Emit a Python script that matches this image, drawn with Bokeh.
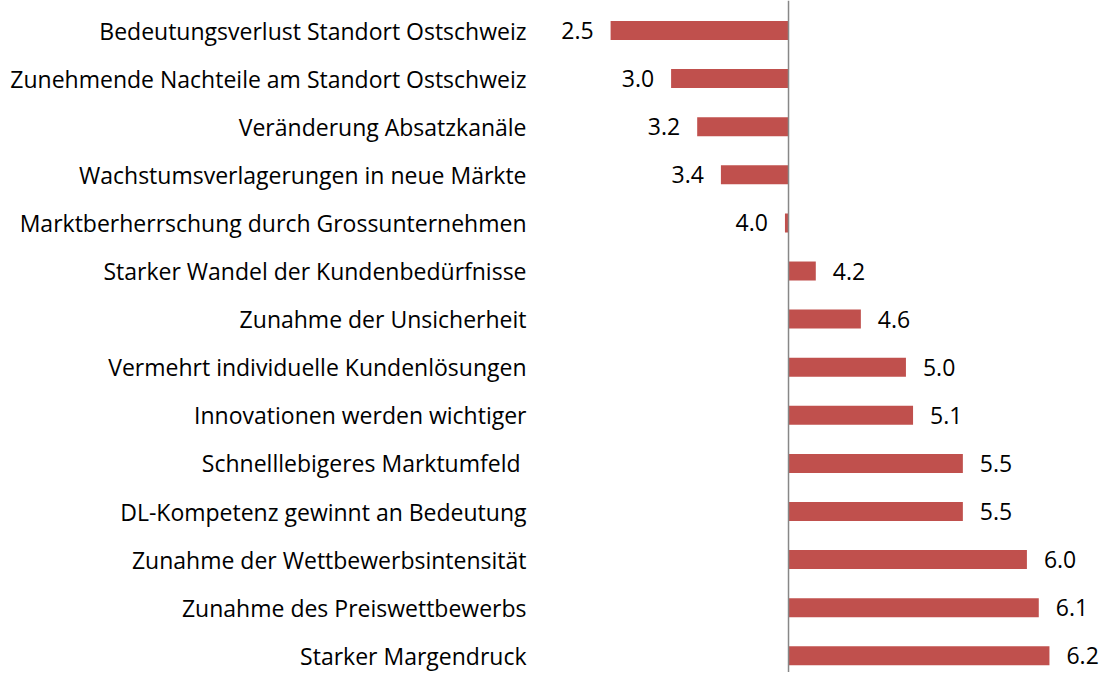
from bokeh.plotting import figure
from bokeh.models import ColumnDataSource, Range1d, Span
from bokeh.core.properties import value
from bokeh.embed import file_html
from bokeh.resources import INLINE

categories = [
    "Bedeutungsverlust Standort Ostschweiz",
    "Zunehmende Nachteile am Standort Ostschweiz",
    "Veränderung Absatzkanäle",
    "Wachstumsverlagerungen in neue Märkte",
    "Marktberherrschung durch Grossunternehmen",
    "Starker Wandel der Kundenbedürfnisse",
    "Zunahme der Unsicherheit",
    "Vermehrt individuelle Kundenlösungen",
    "Innovationen werden wichtiger",
    "Schnelllebigeres Marktumfeld ",
    "DL-Kompetenz gewinnt an Bedeutung",
    "Zunahme der Wettbewerbsintensität",
    "Zunahme des Preiswettbewerbs",
    "Starker Margendruck",
]
values = [2.50, 3.01, 3.23, 3.43, 3.97, 4.23, 4.61, 4.99, 5.05, 5.47, 5.47, 6.01, 6.11, 6.20]
labels = ["2.5", "3.0", "3.2", "3.4", "4.0", "4.2", "4.6", "5.0", "5.1", "5.5", "5.5", "6.0", "6.1", "6.2"]
baseline = 4.0

FONT = "Open Sans"
FS = "23px"

idx = list(range(len(categories)))
neg = [v < baseline for v in values]

src_bar = ColumnDataSource(dict(y=idx, left=[baseline] * len(values), right=values))
src_neg = ColumnDataSource(dict(
    y=[i for i, n in zip(idx, neg) if n],
    x=[v for v, n in zip(values, neg) if n],
    t=[l for l, n in zip(labels, neg) if n]))
src_pos = ColumnDataSource(dict(
    y=[i for i, n in zip(idx, neg) if not n],
    x=[v for v, n in zip(values, neg) if not n],
    t=[l for l, n in zip(labels, neg) if not n]))

W, H = 1099, 672
p = figure(width=W, height=H, output_backend="svg", toolbar_location=None,
           x_range=Range1d(-2.644, 6.622), y_range=Range1d(13.347, -0.624),
           min_border=0, min_border_left=0, min_border_right=0,
           min_border_top=0, min_border_bottom=0)
p.axis.visible = False
p.grid.visible = False
p.outline_line_color = None
p.background_fill_color = "white"
p.border_fill_color = "white"

p.hbar(y="y", left="left", right="right", height=0.395, source=src_bar,
       fill_color="#C0504D", line_color=None)

p.add_layout(Span(location=baseline, dimension="height", line_color="#878787", line_width=1.5))

# category labels
src_cat = ColumnDataSource(dict(y=idx, x=[1.791] * len(idx), t=categories))
p.text(x="x", y="y", text="t", source=src_cat, text_align="right", text_baseline="middle",
       text_font=value(FONT), text_font_size=FS, text_color="black")

p.text(x="x", y="y", text="t", source=src_neg, text_align="right", text_baseline="middle",
       x_offset=-17, text_font=value(FONT), text_font_size=FS, text_color="black")
p.text(x="x", y="y", text="t", source=src_pos, text_align="left", text_baseline="middle",
       x_offset=17, text_font=value(FONT), text_font_size=FS, text_color="black")

open("out.html", "w").write(file_html(p, INLINE))
